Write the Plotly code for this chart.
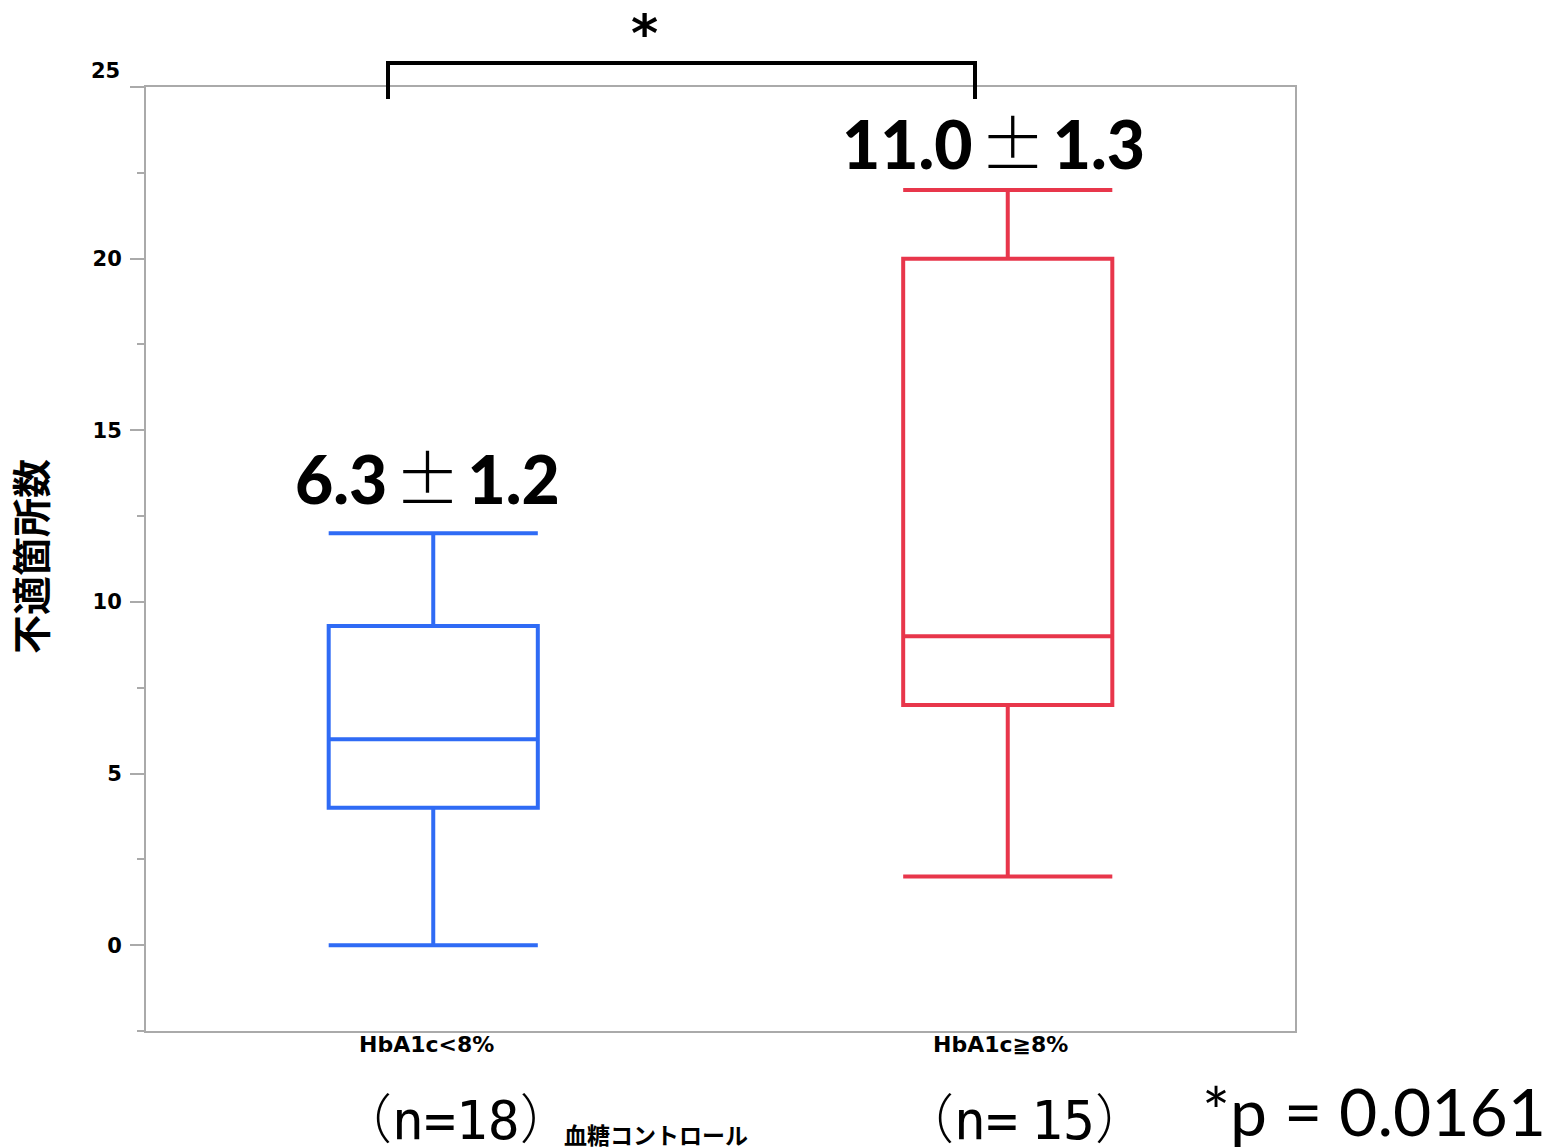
import plotly.graph_objects as go

# ---- data ----
categories = ["HbA1c<8%", "HbA1c≧8%"]
q1 = [4.0, 7.0]
median = [6.0, 9.0]
q3 = [9.3, 20.0]
lower_fence = [0.0, 2.0]
upper_fence = [12.0, 22.0]
box_colors = ["#2F6BF5", "#E8364B"]
mean_labels = ["6.3", "11.0"]
se_labels = ["1.2", "1.3"]
n_labels = ["n=18", "n=<span style='font-size:22px'> </span>15"]
group_note = "血糖コントロール"
p_text = "*p = 0.0161"
y_tick_vals = [0, 5, 10, 15, 20, 25]
y_tick_text = ["0", "5", "10", "15", "20", ""]

# page has an 8px body margin; figure is sized so the plot lands where the reference has it
W, H = 1544, 1139
ML, MT, MR, MB = 138, 79, 257, 116
# reference-pixel -> paper coordinates (plot area spans x 146..1295, y 87..1031 in reference)
RL, RR, RT, RB = 146, 1295, 87, 1031


def px(x):
    return (x - RL) / (RR - RL)


def py(y):
    return (RB - y) / (RB - RT)


fig = go.Figure()
for i, cat in enumerate(categories):
    fig.add_trace(go.Box(
        x=[cat], q1=[q1[i]], median=[median[i]], q3=[q3[i]],
        lowerfence=[lower_fence[i]], upperfence=[upper_fence[i]],
        line=dict(color=box_colors[i], width=4),
        fillcolor="rgba(0,0,0,0)", width=0.364, whiskerwidth=1,
        boxpoints=False, showlegend=False, hoverinfo="skip",
    ))

tick_font = dict(family="DejaVu Sans", size=21, color="black", weight="bold")
cjk = "Noto Sans CJK JP"

fig.update_layout(
    width=W, height=H,
    margin=dict(l=ML, r=MR, t=MT, b=MB),
    paper_bgcolor="white", plot_bgcolor="white",
    xaxis=dict(
        type="category", range=[-0.5, 1.5], showline=True, mirror=True,
        linecolor="#aaaaaa", linewidth=2, ticks="", showgrid=False,
        showticklabels=False,
    ),
    yaxis=dict(
        range=[-2.5, 25], showline=True, mirror=True, linecolor="#aaaaaa",
        linewidth=2, ticks="outside", ticklen=14, tickwidth=2, tickcolor="#aaaaaa",
        tickvals=y_tick_vals, ticktext=y_tick_text, showgrid=False, zeroline=False,
        tickfont=tick_font, ticklabelstandoff=4,
        minor=dict(dtick=2.5, ticks="outside", ticklen=7, tickwidth=2,
                   tickcolor="#aaaaaa", showgrid=False),
    ),
)

ann = []
# top "25" label sits above its tick
ann.append(dict(text="25", x=px(122), y=py(71), xref="paper", yref="paper",
                xanchor="right", yanchor="middle", showarrow=False, font=tick_font))

# category labels (slightly left of box centres, just under the axis)
for i, cat in enumerate(categories):
    ann.append(dict(text=cat, x=cat, y=py(1044), xref="x", yref="paper",
                    xanchor="center", yanchor="middle", xshift=-7, showarrow=False,
                    font=dict(family="DejaVu Sans", size=22, color="black", weight="bold")))

stat_pos = [(427, 475), (993, 140)]
sp = "<span style='font-size:30px'> </span>"
for i in range(len(categories)):
    t = (f"{mean_labels[i]}{sp}<span style='font-family:{cjk};font-weight:300'>±</span>{sp}"
         f"{se_labels[i]}")
    ann.append(dict(text=t, x=px(stat_pos[i][0]), y=py(stat_pos[i][1]), xref="paper",
                    yref="paper", xanchor="center", yanchor="middle", showarrow=False,
                    font=dict(family="Lato", size=66, color="black", weight=900)))

n_pos = [(456, 1116), (1024, 1116)]
for i in range(len(categories)):
    t = (f"<span style='font-family:{cjk};font-weight:300'>（</span>{n_labels[i]}"
         f"<span style='font-family:{cjk};font-weight:300'>）</span>")
    ann.append(dict(text=t, x=px(n_pos[i][0]), y=py(n_pos[i][1]), xref="paper",
                    yref="paper", xanchor="center", yanchor="middle", showarrow=False,
                    font=dict(family="DejaVu Sans Mono", size=53, color="black")))

ann.append(dict(text=group_note, x=px(656), y=py(1134), xref="paper",
                yref="paper", xanchor="center", yanchor="middle", showarrow=False,
                font=dict(family=cjk, size=23, color="black", weight="bold")))
ann.append(dict(text=p_text, x=px(1374), y=py(1110), xref="paper", yref="paper",
                xanchor="center", yanchor="middle", showarrow=False,
                font=dict(family="Lato", size=66, color="black")))
ann.append(dict(text="*", x=px(644), y=py(33), xref="paper", yref="paper",
                xanchor="center", yanchor="middle", showarrow=False,
                font=dict(family="DejaVu Sans", size=52, color="black", weight="bold")))
ann.append(dict(text="不適箇所数", x=px(29), y=py(557), xref="paper", yref="paper",
                xanchor="center", yanchor="middle", textangle=-90, showarrow=False,
                font=dict(family=cjk, size=39, color="black", weight="bold")))

fig.update_layout(annotations=ann)

fig.add_shape(type="path", xref="paper", yref="paper",
              path=(f"M {px(388)},{py(99)} L {px(388)},{py(63)} "
                    f"L {px(975)},{py(63)} L {px(975)},{py(99)}"),
              line=dict(color="black", width=4))

fig.write_html("out.html")
